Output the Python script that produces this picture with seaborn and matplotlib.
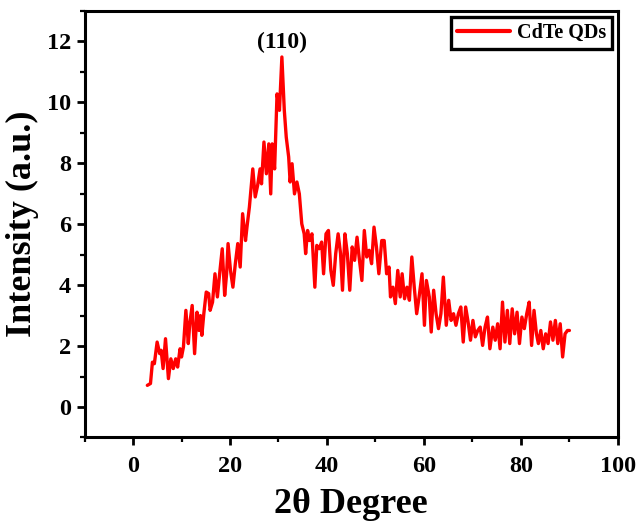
import matplotlib
matplotlib.use("Agg")
import matplotlib.pyplot as plt
import seaborn as sns
import pandas as pd
from matplotlib.ticker import MultipleLocator

two_theta = [2.95, 3.6, 4.0, 4.4, 4.97, 5.5, 5.8, 6.2, 6.7, 7.3, 7.8, 8.3, 8.8, 9.2, 9.7, 10.0,
             10.4, 10.9, 11.4, 11.7, 12.2, 12.7, 13.2, 13.6, 13.9, 14.2, 14.6, 15.1, 15.6, 15.9,
             16.4, 16.9, 17.4, 17.9, 18.4, 18.9, 19.3, 19.6, 20.1, 20.6, 21.1, 21.6, 22.1, 22.6,
             23.2, 23.5, 24.0, 24.7, 25.2, 25.7, 26.2, 26.5, 27.0, 27.5, 28.0, 28.4, 28.7, 29.2,
             29.7, 30.2, 30.7, 31.2, 31.6, 32.1, 32.4, 32.8, 33.3, 33.8, 34.3, 34.8, 35.3, 35.6,
             36.0, 36.4, 36.9, 37.5, 37.9, 38.4, 38.9, 39.3, 39.8, 40.3, 40.8, 41.3, 41.8, 42.3,
             42.8, 43.2, 43.7, 44.2, 44.7, 45.2, 45.7, 46.2, 46.7, 47.2, 47.7, 48.2, 48.7, 49.2,
             49.7, 50.2, 50.7, 51.3, 51.8, 52.3, 52.8, 53.1, 53.6, 54.1, 54.6, 55.1, 55.5, 56.0,
             56.5, 57.0, 57.5, 58.0, 58.5, 59.0, 59.6, 60.1, 60.5, 61.1, 61.5, 62.0, 62.5, 63.0,
             63.5, 64.0, 64.6, 65.1, 65.6, 66.1, 66.6, 67.1, 67.6, 68.1, 68.6, 69.1, 69.6, 70.1,
             70.6, 71.1, 71.6, 72.1, 72.6, 73.1, 73.6, 74.2, 74.7, 75.2, 75.7, 76.2, 76.7, 77.2,
             77.7, 78.2, 78.7, 79.2, 79.7, 80.2, 80.7, 81.2, 81.7, 82.2, 82.7, 83.2, 83.6, 84.1,
             84.6, 85.1, 85.6, 86.1, 86.6, 87.1, 87.6, 88.1, 88.6, 89.1, 89.6, 90.0]
intensity = [0.71, 0.77, 1.47, 1.42, 2.13, 1.75, 1.86, 1.26, 2.24, 0.93, 1.58, 1.26, 1.58, 1.31, 1.91, 1.64,
             1.97, 3.17, 2.08, 2.73, 3.33, 1.75, 3.11, 2.51, 3.0, 2.35, 3.06, 3.77, 3.72, 3.17,
             3.44, 4.37, 3.61, 4.43, 5.19, 3.66, 4.37, 5.36, 4.48, 3.93, 4.70, 5.36, 4.59, 6.34,
             5.46, 5.90, 6.56, 7.81, 6.89, 7.27, 7.81, 7.32, 8.69, 7.65, 8.63, 6.99, 8.63, 7.81,
             10.27, 9.73, 11.48, 9.73, 8.85, 8.20, 7.38, 7.98, 6.99, 7.38, 6.99, 6.01, 5.68, 5.03,
             5.79, 5.46, 5.68, 3.93, 5.30, 5.19, 5.41, 4.37, 5.68, 5.79, 4.48, 3.99, 5.03, 5.68,
             5.03, 3.83, 5.68, 5.03, 3.83, 5.25, 4.81, 5.57, 4.81, 4.15, 5.79, 4.92, 5.14, 4.70,
             5.90, 5.25, 4.37, 5.46, 5.46, 4.37, 4.59, 3.61, 3.93, 3.39, 4.48, 3.61, 4.37, 3.55,
             3.93, 3.50, 4.92, 3.93, 3.06, 3.61, 4.37, 2.68, 4.15, 3.61, 2.46, 3.83, 3.06, 2.57,
             3.06, 4.26, 2.68, 3.50, 2.84, 3.06, 2.68, 3.06, 3.28, 2.13, 3.28, 2.79, 2.19, 2.84,
             2.30, 2.51, 2.62, 2.02, 2.62, 2.95, 1.91, 2.62, 2.19, 2.73, 1.91, 3.44, 2.13, 3.17,
             2.08, 3.22, 2.40, 3.11, 2.08, 2.95, 2.57, 3.06, 3.44, 2.02, 3.17, 2.40, 2.08, 2.51,
             1.91, 2.40, 2.08, 2.79, 2.19, 2.84, 2.08, 2.73, 1.64, 2.40, 2.51, 2.51]
series_name = "CdTe QDs"
peak_label = "(110)"

df = pd.DataFrame({"2θ": two_theta, "Intensity": intensity, "series": series_name})

sns.set_style("ticks")
plt.rcParams['font.family'] = ['Liberation Serif', 'DejaVu Serif']
plt.rcParams['font.weight'] = 'bold'
plt.rcParams['text.color'] = 'black'
plt.rcParams['axes.labelcolor'] = 'black'
plt.rcParams['xtick.color'] = 'black'
plt.rcParams['ytick.color'] = 'black'
plt.rcParams['axes.edgecolor'] = 'black'

fig = plt.figure(figsize=(6.38, 5.25), dpi=100)
ax = fig.add_axes([0.1325, 0.1667, 0.836, 0.813])
sns.lineplot(data=df, x="2θ", y="Intensity", hue="series", palette=["#ff0000"],
             linewidth=2.4, ax=ax, sort=False, estimator=None)

ax.set_xlim(-10, 100)
ax.set_ylim(-1, 13)
ax.xaxis.set_major_locator(MultipleLocator(20))
ax.xaxis.set_minor_locator(MultipleLocator(10))
ax.yaxis.set_major_locator(MultipleLocator(2))
ax.yaxis.set_minor_locator(MultipleLocator(1))
ax.tick_params(axis='both', which='major', direction='out', length=6, width=2,
               labelsize=17.5, top=False, right=False, colors='black')
ax.tick_params(axis='both', which='minor', direction='out', length=3.5, width=1.6,
               top=False, right=False, colors='black')
ax.tick_params(axis='x', which='major', pad=7)
for lab in ax.get_xticklabels() + ax.get_yticklabels():
    lab.set_fontweight('bold')
for s in ax.spines.values():
    s.set_linewidth(2.2)
    s.set_edgecolor('black')
    s.set_visible(True)

ax.set_xlabel("2θ Degree", fontsize=26, fontweight='bold', labelpad=8)
ax.set_ylabel("Intensity (a.u.)", fontsize=26, fontweight='bold', labelpad=6)

ax.text(30.7, 11.6, peak_label, ha='center', va='bottom', fontsize=17, fontweight='bold')

leg = ax.legend(loc='upper right', frameon=True, fancybox=False, handlelength=2.6,
                borderpad=0.3, handletextpad=0.35, borderaxespad=0.3,
                prop={'family': 'Liberation Serif', 'weight': 'bold', 'size': 14.5})
leg.get_frame().set_edgecolor('black')
leg.get_frame().set_linewidth(2.4)
leg.get_frame().set_alpha(1)
for h in leg.get_lines():
    h.set_linewidth(3)

fig.savefig("out.png", dpi=100)
